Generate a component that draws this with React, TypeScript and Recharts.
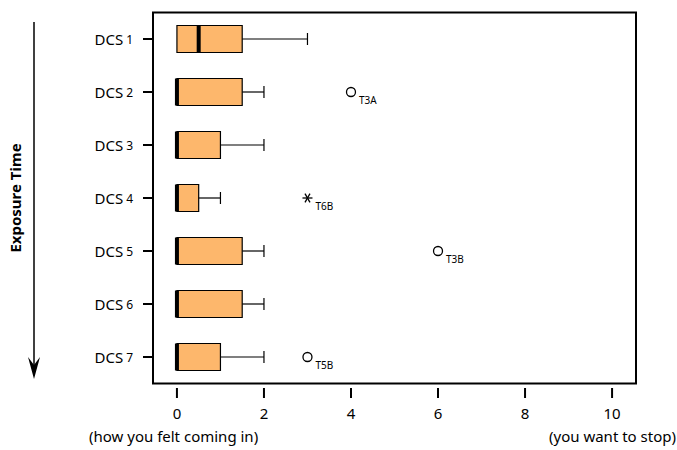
import React from 'react';
import { ComposedChart, Bar, Scatter, XAxis, YAxis, ReferenceArea } from 'recharts';

const categories = ['DCS1', 'DCS2', 'DCS3', 'DCS4', 'DCS5', 'DCS6', 'DCS7'];
const q1 = [0, 0, 0, 0, 0, 0, 0];
const median = [0.5, 0, 0, 0, 0, 0, 0];
const q3 = [1.5, 1.5, 1, 0.5, 1.5, 1.5, 1];
const whiskerMax = [3, 2, 2, 1, 2, 2, 2];

const outlierCats = ['DCS2', 'DCS4', 'DCS5', 'DCS7'];
const outlierValues = [4, 3, 6, 3];
const outlierIds = ['T3A', 'T6B', 'T3B', 'T5B'];
const outlierKinds = ['circle', 'star', 'circle', 'circle'];

const xTicks = [0, 2, 4, 6, 8, 10];

const font = '"Noto Sans", sans-serif';
const boxFill = '#FDB76C';

const data = categories.map((name, i) => ({
  name,
  base: q1[i],
  box: q3[i] - q1[i],
  whisker: whiskerMax[i] - q3[i],
  median: median[i],
}));

const outliers = outlierCats.map((name, i) => ({
  name,
  value: outlierValues[i],
  id: outlierIds[i],
  kind: outlierKinds[i],
}));

const WhiskerShape = (props: any) => {
  const { x, y, width, height } = props;
  const cy = y + height / 2;
  return (
    <g>
      <line x1={x} y1={cy} x2={x + width} y2={cy} stroke="#000" strokeWidth={1.2} />
      <line x1={x + width} y1={cy - 6} x2={x + width} y2={cy + 6} stroke="#000" strokeWidth={1.2} />
    </g>
  );
};

const MedianShape = (props: any) => {
  const { cx, cy } = props;
  return <rect x={cx - 2} y={cy - 13.5} width={4} height={27} fill="#000" />;
};

const OutlierShape = (props: any) => {
  const { cx, cy, payload } = props;
  const label = (
    <text x={cx + 8} y={cy + 11.5} fontSize={10} fontFamily={font} style={{ fill: '#000' }}>
      {payload.id}
    </text>
  );
  if (payload.kind === 'star') {
    const r = 5;
    return (
      <g>
        {[0, 60, 120].map((a) => {
          const rad = (a * Math.PI) / 180;
          return (
            <line
              key={a}
              x1={cx - r * Math.cos(rad)}
              y1={cy - r * Math.sin(rad)}
              x2={cx + r * Math.cos(rad)}
              y2={cy + r * Math.sin(rad)}
              stroke="#000"
              strokeWidth={1.3}
            />
          );
        })}
        {label}
      </g>
    );
  }
  return (
    <g>
      <circle cx={cx} cy={cy} r={4.5} fill="#fff" stroke="#000" strokeWidth={1.3} />
      {label}
    </g>
  );
};

const CategoryTick = (props: any) => {
  const { x, y, payload } = props;
  const v = String(payload.value);
  return (
    <text x={x} y={y} textAnchor="end" dominantBaseline="central" fontFamily={font} style={{ fill: '#000' }}>
      <tspan fontSize={15}>{v.slice(0, 3)}</tspan>
      <tspan fontSize={12} dx={3}>{v.slice(3)}</tspan>
    </text>
  );
};

export default function App() {
  return (
    <div style={{ position: 'absolute', left: 0, top: 0, width: 677, height: 450, background: '#fff', fontFamily: font }}>
      <ComposedChart
        width={677}
        height={450}
        data={data}
        layout="vertical"
        margin={{ top: 6, right: 41, bottom: 32, left: 93 }}
      >
        <XAxis
          type="number"
          domain={[-0.55, 10.55]}
          ticks={xTicks}
          allowDataOverflow
          tickSize={10}
          tickMargin={10}
          tickLine={{ stroke: '#000', strokeWidth: 2 }}
          axisLine={false}
          height={30}
          tick={{ fill: '#000', fontSize: 15, fontFamily: font }}
        />
        <YAxis
          type="category"
          dataKey="name"
          allowDuplicatedCategory={false}
          width={60}
          padding={{ top: 6.5, bottom: 4.5 }}
          tickSize={10}
          tickMargin={10}
          tickLine={{ stroke: '#000', strokeWidth: 2 }}
          axisLine={false}
          tick={<CategoryTick />}
        />
        <ReferenceArea x1={-0.55} x2={10.55} fill="none" stroke="#000" strokeWidth={2} ifOverflow="visible" />
        <Bar dataKey="base" stackId="b" fill="none" barSize={27} isAnimationActive={false} />
        <Bar dataKey="box" stackId="b" fill={boxFill} stroke="#000" strokeWidth={1.2} barSize={27} isAnimationActive={false} />
        <Bar dataKey="whisker" stackId="b" barSize={27} shape={<WhiskerShape />} isAnimationActive={false} />
        <Scatter dataKey="median" shape={<MedianShape />} isAnimationActive={false} />
        <Scatter data={outliers} dataKey="value" shape={<OutlierShape />} isAnimationActive={false} />
      </ComposedChart>

      <svg width={677} height={450} style={{ position: 'absolute', left: 0, top: 0, pointerEvents: 'none' }}>
        <line x1={34} y1={22} x2={34} y2={368} stroke="#000" strokeWidth={1.5} />
        <polygon points="28,357 34,379 40,357 34,365" fill="#000" />
        <text
          x={15}
          y={198}
          transform="rotate(-90 15 198)"
          textAnchor="middle"
          dominantBaseline="central"
          fontSize={15}
          fontWeight="bold"
          fontFamily={font}
          fill="#000"
        >
          Exposure Time
        </text>
        <text x={89} y={442} textAnchor="start" fontSize={15} fontFamily={font} fill="#000">
          (how you felt coming in)
        </text>
        <text x={676} y={442} textAnchor="end" fontSize={15} fontFamily={font} fill="#000">
          (you want to stop)
        </text>
      </svg>
    </div>
  );
}
